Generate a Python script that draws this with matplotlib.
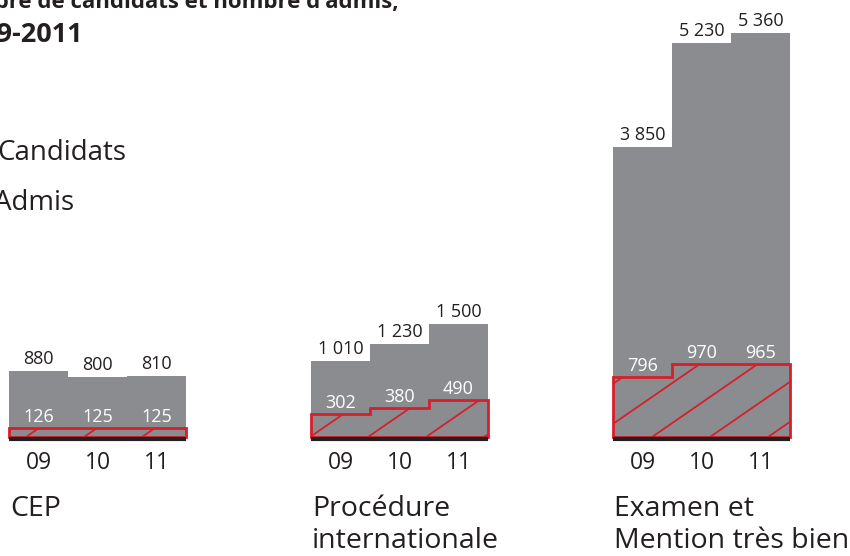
import numpy as np
import matplotlib.pyplot as plt
from matplotlib.patches import Polygon

groups = ['CEP', 'Procédure\ninternationale', 'Examen et\nMention très bien']
years = ['09', '10', '11']
candidats = [[880, 800, 810], [1010, 1230, 1500], [3850, 5230, 5360]]
admis = [[126, 125, 125], [302, 380, 490], [796, 970, 965]]
title1 = "Nombre de candidats et nombre d'admis,"
title2 = '2009-2011'

GREY = '#8b8c90'
RED = '#d5202b'
INK = '#231f20'

plt.rcParams['font.family'] = ['Open Sans', 'DejaVu Sans']


def fmt(v):
    return f'{v:,}'.replace(',', ' ')


def main():
    fig = plt.figure(figsize=(8.5, 5.56), dpi=100)
    ax = fig.add_axes([0, 0, 1, 1])
    ax.axis('off')

    k = 0.0753  # pixels per unit
    base = 437  # baseline row from top
    ax.set_xlim(0, 850)
    ax.set_ylim(-(556 - base) / k, base / k)

    def py(row):
        return (base - row) / k

    lefts = [9, 311, 613]
    w = 59
    phase = [11, -7, 33]
    gap = 58
    slope = 0.69 / k

    for g in range(3):
        xs = lefts[g] + w * np.arange(3)
        right = xs[-1] + w
        ax.bar(xs, candidats[g], width=w, align='edge', color=GREY, lw=0)

        verts = [(xs[0], 0)]
        for x, v in zip(xs, admis[g]):
            verts += [(x, v), (x + w, v)]
        verts += [(right, 0)]
        poly = Polygon(verts, closed=True, facecolor='none', edgecolor=RED,
                       lw=2, joinstyle='miter', zorder=3)
        ax.add_patch(poly)
        for x0 in np.arange(lefts[g] + phase[g] - 400, right, gap):
            ln, = ax.plot([x0, x0 + 400], [0, 400 * slope], color=RED, lw=1.3, zorder=2)
            ln.set_clip_path(poly)

        ax.plot([lefts[g], right], [py(439), py(439)], color=INK, lw=3, solid_capstyle='butt', zorder=4)

        for i, x in enumerate(xs):
            ax.annotate(fmt(candidats[g][i]), (x + w / 2, candidats[g][i]), xytext=(0, 7),
                        textcoords='offset pixels', ha='center', va='baseline',
                        fontsize=13, color=INK)
            ax.annotate(fmt(admis[g][i]), (x + w / 2, admis[g][i]), xytext=(0, 6),
                        textcoords='offset pixels', ha='center', va='baseline',
                        fontsize=13, color='white', zorder=5)
            ax.text(x + w / 2, py(469), years[i], ha='center', va='baseline',
                    fontsize=16.5, color=INK)

        ax.text(lefts[g] + 1, py(495), groups[g], ha='left', va='top',
                fontsize=20.5, color=INK, linespacing=1.18)

    ax.text(-3, py(160), 'Candidats', ha='left', va='baseline', fontsize=20, color=INK)
    ax.text(-6, py(210), 'Admis', ha='left', va='baseline', fontsize=20, color=INK)

    ax.text(399, py(8), title1, ha='right', va='baseline', fontsize=16,
            fontweight='bold', color=INK)
    ax.text(83, py(42), title2, ha='right', va='baseline', fontsize=19.5,
            fontweight='bold', color=INK)

    fig.savefig('out.png', dpi=100)


if __name__ == "__main__":
    main()
